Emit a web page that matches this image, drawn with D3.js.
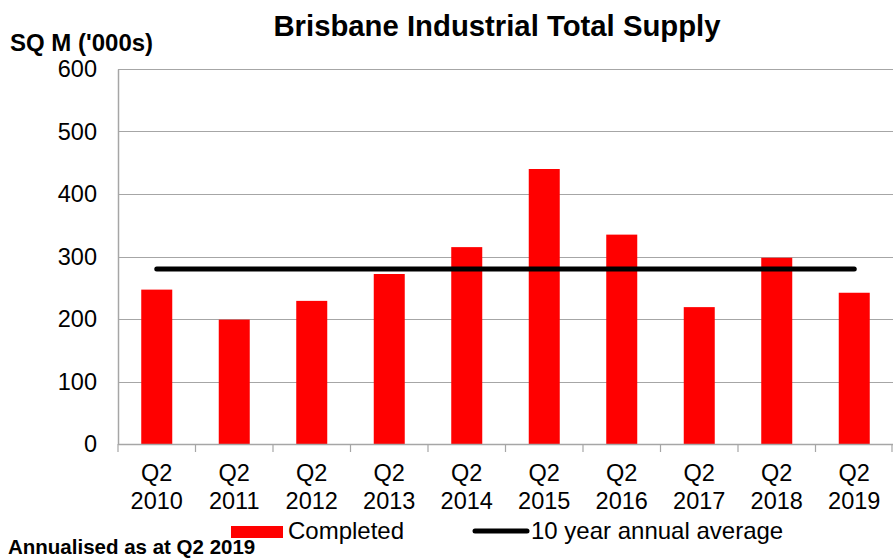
<!DOCTYPE html>
<html>
<head>
<meta charset="utf-8">
<script src="https://cdn.jsdelivr.net/npm/d3@7"></script>
<style>
  body { margin: 0; background: #fff; }
  svg { font-family: "Liberation Sans", Arial, sans-serif; }
</style>
</head>
<body>
<div id="chart"></div>
<script>
// chart data
var quarters = ["Q2", "Q2", "Q2", "Q2", "Q2", "Q2", "Q2", "Q2", "Q2", "Q2"];
var years = ["2010", "2011", "2012", "2013", "2014", "2015", "2016", "2017", "2018", "2019"];
var completed = [247, 199, 229, 272, 315, 440, 335, 219, 298, 242];
var tenYearAverage = 280;
var yTicks = [0, 100, 200, 300, 400, 500, 600];

var W = 894, H = 560;
var margin = {top: 69, right: 1, bottom: 116, left: 118},
    width = W - margin.left - margin.right,
    height = H - margin.top - margin.bottom;

var svg = d3.select("#chart").append("svg")
    .attr("width", W)
    .attr("height", H);

var g = svg.append("g")
    .attr("transform", "translate(" + margin.left + "," + margin.top + ")");

var cats = years.map(function(y, i) { return i; });

var x = d3.scaleBand()
    .domain(cats)
    .range([0, width])
    .paddingInner(0.6)
    .paddingOuter(0.3);

var xBand = d3.scaleBand().domain(cats).range([0, width]);

var y = d3.scaleLinear()
    .domain([0, 600])
    .range([height, 0]);

// gridlines
g.selectAll(".grid")
  .data(yTicks.filter(function(d) { return d > 0; }))
  .enter().append("line")
    .attr("x1", 0)
    .attr("x2", width)
    .attr("y1", function(d) { return Math.round(y(d)) + 0.5; })
    .attr("y2", function(d) { return Math.round(y(d)) + 0.5; })
    .attr("stroke", "#a6a6a6")
    .attr("stroke-width", 1.2);

// bars
g.selectAll(".bar")
  .data(completed)
  .enter().append("rect")
    .attr("x", function(d, i) { return x(i); })
    .attr("y", function(d) { return y(d); })
    .attr("width", x.bandwidth())
    .attr("height", function(d) { return height - y(d); })
    .attr("fill", "#ff0000");

// 10 year average line, from first to last category centre
g.append("line")
    .attr("x1", xBand(0) + xBand.bandwidth() / 2)
    .attr("x2", xBand(cats.length - 1) + xBand.bandwidth() / 2)
    .attr("y1", y(tenYearAverage))
    .attr("y2", y(tenYearAverage))
    .attr("stroke", "#000")
    .attr("stroke-width", 5)
    .attr("stroke-linecap", "round");

// y axis
var yaxis = d3.axisLeft(y).tickValues(yTicks).tickSize(0).tickPadding(21);
var yg = g.append("g").call(yaxis);
yg.select(".domain").attr("stroke", "#a6a6a6").attr("stroke-width", 1.5);
yg.selectAll("text").attr("font-size", "23.5px").attr("fill", "#000");

// x axis
var xg = g.append("g").attr("transform", "translate(0," + height + ")");
xg.append("line")
    .attr("x1", 0).attr("x2", width)
    .attr("y1", 0.5).attr("y2", 0.5)
    .attr("stroke", "#a6a6a6").attr("stroke-width", 1.5);
xg.selectAll(".xtick")
  .data(d3.range(cats.length + 1))
  .enter().append("line")
    .attr("x1", function(d) { return Math.min(d * xBand.step(), width - 1); })
    .attr("x2", function(d) { return Math.min(d * xBand.step(), width - 1); })
    .attr("y1", 0).attr("y2", 8)
    .attr("stroke", "#a6a6a6").attr("stroke-width", 1.2);

var xl = xg.selectAll(".xlabel")
  .data(cats)
  .enter().append("text")
    .attr("x", function(d) { return xBand(d) + xBand.bandwidth() / 2; })
    .attr("text-anchor", "middle")
    .attr("font-size", "23.5px")
    .attr("fill", "#000");
xl.append("tspan").attr("x", function(d) { return xBand(d) + xBand.bandwidth() / 2; })
    .attr("y", 37).text(function(d) { return quarters[d]; });
xl.append("tspan").attr("x", function(d) { return xBand(d) + xBand.bandwidth() / 2; })
    .attr("y", 65).text(function(d) { return years[d]; });

// title
svg.append("text")
    .attr("x", 497)
    .attr("y", 36)
    .attr("text-anchor", "middle")
    .attr("font-size", "29.3px")
    .attr("font-weight", "bold")
    .text("Brisbane Industrial Total Supply");

svg.append("text")
    .attr("x", 10)
    .attr("y", 51)
    .attr("font-size", "24px")
    .attr("font-weight", "bold")
    .text("SQ M ('000s)");

// legend
svg.append("rect")
    .attr("x", 231).attr("y", 526)
    .attr("width", 52).attr("height", 12)
    .attr("fill", "#ff0000");
svg.append("text")
    .attr("x", 288).attr("y", 539)
    .attr("font-size", "24px")
    .text("Completed");
svg.append("line")
    .attr("x1", 475).attr("x2", 527)
    .attr("y1", 531).attr("y2", 531)
    .attr("stroke", "#000").attr("stroke-width", 5)
    .attr("stroke-linecap", "round");
svg.append("text")
    .attr("x", 531).attr("y", 539)
    .attr("font-size", "24px")
    .text("10 year annual average");

// footnote
svg.append("text")
    .attr("x", 8).attr("y", 554)
    .attr("font-size", "20.5px")
    .attr("font-weight", "bold")
    .text("Annualised as at Q2 2019");
</script>
</body>
</html>
